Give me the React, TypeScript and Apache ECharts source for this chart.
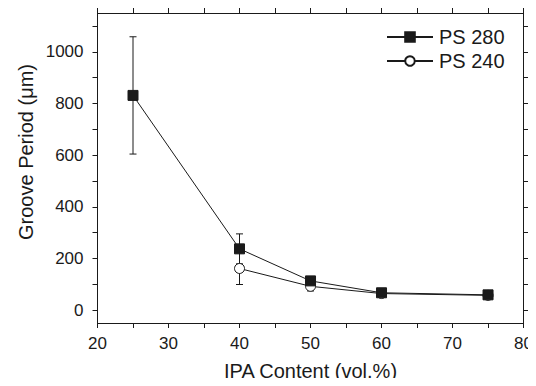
import React, { useEffect, useRef } from "react";
import * as echarts from "echarts";

const FONT = "'Liberation Sans', Arial, Helvetica, sans-serif";

const xPS280 = [25, 40, 50, 60, 75];
const yPS280 = [831, 237, 113, 67, 59];
const errPS280 = [227, 58, 10, 6, 5];

const xPS240 = [40, 50, 60, 75];
const yPS240 = [161, 92, 64, 57];
const errPS240 = [62, 18, 5, 5];

const xTickValues = [20, 25, 30, 35, 40, 45, 50, 55, 60, 65, 70, 75, 80];
const xLabelValues = [20, 30, 40, 50, 60, 70, 80];
const yTickValues = [0, 100, 200, 300, 400, 500, 600, 700, 800, 900, 1000, 1100];
const yLabelValues = [0, 200, 400, 600, 800, 1000];

const INK = "#1a1a1a";

function errorRender(params: any, api: any) {
  const x = api.value(0);
  const y = api.value(1);
  const e = api.value(2);
  const top = api.coord([x, y + e]);
  const bot = api.coord([x, y - e]);
  const hw = 3.5;
  const style = { stroke: INK, lineWidth: 1 };
  return {
    type: "group",
    children: [
      { type: "line", shape: { x1: top[0], y1: top[1], x2: bot[0], y2: bot[1] }, style },
      { type: "line", shape: { x1: top[0] - hw, y1: top[1], x2: top[0] + hw, y2: top[1] }, style },
      { type: "line", shape: { x1: bot[0] - hw, y1: bot[1], x2: bot[0] + hw, y2: bot[1] }, style },
    ],
  };
}

export default function App() {
  const ref = useRef<HTMLDivElement>(null);
  useEffect(() => {
    if (!ref.current) return;
    const chart = echarts.init(ref.current, null, { renderer: "svg" });
    const axisLine = { show: true, onZero: false, lineStyle: { color: INK, width: 1 } };
    const baseX = {
      type: "value",
      min: 20,
      max: 80,
      interval: 5,
      axisLine,
      splitLine: { show: false },
    };
    const baseY = {
      type: "value",
      min: -50,
      max: 1150,
      axisLine,
      splitLine: { show: false },
    };
    const fmt = (v: number) => String(v);
    const d280 = xPS280.map((x, i) => [x, yPS280[i]]);
    const d240 = xPS240.map((x, i) => [x, yPS240[i]]);
    const e280 = xPS280.map((x, i) => [x, yPS280[i], errPS280[i]]);
    const e240 = xPS240.map((x, i) => [x, yPS240[i], errPS240[i]]);
    chart.setOption({
      animation: false,
      backgroundColor: "#ffffff",
      textStyle: { fontFamily: FONT },
      grid: { left: 97.5, right: 12, top: 13, bottom: 61, containLabel: false },
      legend: {
        orient: "vertical",
        left: 381,
        top: 22,
        itemWidth: 46,
        itemHeight: 12,
        itemGap: 4,
        data: ["PS 280", "PS 240"],
        textStyle: { fontFamily: FONT, fontSize: 20, color: INK, padding: [0, 0, 0, 1] },
      },
      xAxis: [
        {
          ...baseX,
          position: "bottom",
          axisTick: { show: true, inside: false, length: 5, lineStyle: { color: INK }, customValues: xTickValues },
          axisLabel: { show: true, customValues: xLabelValues, formatter: fmt, fontSize: 17, color: INK, margin: 12, fontFamily: FONT },
          name: "IPA Content (vol.%)",
          nameLocation: "middle",
          nameGap: 38,
          nameTextStyle: { fontSize: 20, color: INK, fontFamily: FONT },
        },
        {
          ...baseX,
          position: "top",
          axisTick: { show: true, inside: false, length: 5, lineStyle: { color: INK }, customValues: xTickValues },
          axisLabel: { show: false },
        },
      ],
      yAxis: [
        {
          ...baseY,
          position: "left",
          axisTick: { show: true, inside: false, length: 5, lineStyle: { color: INK }, customValues: yTickValues },
          axisLabel: { show: true, customValues: yLabelValues, formatter: fmt, fontSize: 17, color: INK, margin: 14, fontFamily: FONT },
        },
        {
          ...baseY,
          position: "right",
          axisTick: { show: true, inside: false, length: 5, lineStyle: { color: INK }, customValues: yTickValues },
          axisLabel: { show: false },
        },
      ],
      graphic: [
        {
          type: "text",
          x: 26,
          y: 152,
          rotation: Math.PI / 2,
          style: {
            text: "Groove Period (μm)",
            fontSize: 20,
            fontFamily: FONT,
            fill: INK,
            align: "center",
            verticalAlign: "middle",
          },
        },
      ],
      series: [
        {
          name: "PS 240 err",
          type: "custom",
          renderItem: errorRender,
          data: e240,
          encode: { x: 0, y: 1 },
          z: 1,
          silent: true,
        },
        {
          name: "PS 280 err",
          type: "custom",
          renderItem: errorRender,
          data: e280,
          encode: { x: 0, y: 1 },
          z: 1,
          silent: true,
        },
        {
          name: "PS 240",
          type: "line",
          data: d240,
          symbol: "circle",
          symbolSize: 10,
          lineStyle: { color: INK, width: 1 },
          itemStyle: { color: "#ffffff", borderColor: INK, borderWidth: 1 },
          z: 3,
        },
        {
          name: "PS 280",
          type: "line",
          data: d280,
          symbol: "rect",
          symbolSize: 10,
          lineStyle: { color: INK, width: 1 },
          itemStyle: { color: INK, borderColor: INK, borderWidth: 1 },
          z: 4,
        },
      ],
    });
    return () => chart.dispose();
  }, []);
  return <div ref={ref} style={{ width: 536, height: 386, margin: -8 }} />;
}
